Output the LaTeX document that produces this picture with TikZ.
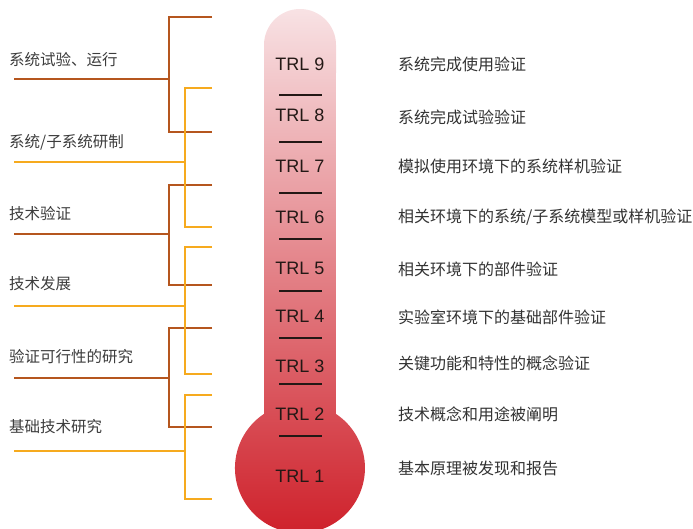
\documentclass[tikz,border=0pt]{standalone}
\usepackage{fontspec}
\setmainfont{Liberation Sans}
\newfontfamily\cjk{Noto Sans CJK SC}
\begin{document}
\begin{tikzpicture}[x=1pt,y=1pt,
  brownline/.style={draw={rgb,255:red,181;green,86;blue,30},line width=1.8pt},
  orangeline/.style={draw={rgb,255:red,246;green,170;blue,30},line width=1.8pt},
  lefttext/.style={anchor=west,inner sep=0pt,font=\cjk\fontsize{15.5}{16}\selectfont,text={rgb,255:red,60;green,60;blue,60}},
  righttext/.style={anchor=west,inner sep=0pt,font=\cjk\fontsize{16}{17}\selectfont,text={rgb,255:red,50;green,50;blue,50}},
  trltext/.style={inner sep=0pt,font=\fontsize{18}{20}\selectfont,text={rgb,255:red,35;green,24;blue,21}},
  dashline/.style={draw={rgb,255:red,35;green,24;blue,21},line width=2pt}]
\useasboundingbox (0,0) rectangle (693,529);
\definecolor{thtop}{RGB}{248,226,228}
\definecolor{thmid}{RGB}{229,128,134}
\definecolor{thbot}{RGB}{206,30,40}
% thermometer
\shade[top color=thtop, middle color=thmid, bottom color=thbot]
  (264,484) -- (264,115.1) arc[start angle=123.6, end angle=416.4, radius=65]
  -- (336,484) arc[start angle=0, end angle=180, radius=36] -- cycle;
% TRL labels
\node[trltext] (t9) at (300,465) {TRL 9};
\node[trltext] (t8) at (300,414) {TRL 8};
\node[trltext] (t7) at (300,363) {TRL 7};
\node[trltext] (t6) at (300,312) {TRL 6};
\node[trltext] (t5) at (300,261) {TRL 5};
\node[trltext] (t4) at (300,213) {TRL 4};
\node[trltext] (t3) at (300,163) {TRL 3};
\node[trltext] (t2) at (300,115) {TRL 2};
\node[trltext] (t1) at (300,53) {TRL 1};
\foreach \y in {434,387,336,290,238,191,145,93}
  \draw[dashline] (279,\y) -- (322,\y);
% right texts
\node[righttext] (r9) at (398,465) {系统完成使用验证};
\node[righttext] (r8) at (398,412) {系统完成试验验证};
\node[righttext] (r7) at (398,363) {模拟使用环境下的系统样机验证};
\node[righttext] (r6) at (398,312) {相关环境下的系统/子系统模型或样机验证};
\node[righttext] (r5) at (398,260) {相关环境下的部件验证};
\node[righttext] (r4) at (398,212) {实验室环境下的基础部件验证};
\node[righttext] (r3) at (398,166) {关键功能和特性的概念验证};
\node[righttext] (r2) at (398,115) {技术概念和用途被阐明};
\node[righttext] (r1) at (398,61) {基本原理被发现和报告};
% left texts
\node[lefttext] (l1) at (9,469) {系统试验、运行};
\node[lefttext] (l2) at (9,387) {系统/子系统研制};
\node[lefttext] (l3) at (9,315) {技术验证};
\node[lefttext] (l4) at (9,245) {技术发展};
\node[lefttext] (l5) at (9,172) {验证可行性的研究};
\node[lefttext] (l6) at (9,102) {基础技术研究};
% bracket coordinates
\coordinate (b1s) at (14,450); \coordinate (b1j) at (169,450);
\coordinate (b1t) at (212,512); \coordinate (b1b) at (212,397);
\coordinate (o1s) at (14,367); \coordinate (o1j) at (185,367);
\coordinate (o1t) at (212,441); \coordinate (o1b) at (212,302);
\coordinate (b2s) at (14,295); \coordinate (b2j) at (169,295);
\coordinate (b2t) at (212,344); \coordinate (b2b) at (212,244);
\coordinate (o2s) at (14,223); \coordinate (o2j) at (185,223);
\coordinate (o2t) at (212,282); \coordinate (o2b) at (212,155);
\coordinate (b3s) at (14,151); \coordinate (b3j) at (169,151);
\coordinate (b3t) at (212,201); \coordinate (b3b) at (212,102);
\coordinate (o3s) at (14,78); \coordinate (o3j) at (185,78);
\coordinate (o3t) at (212,134); \coordinate (o3b) at (212,30);
% brackets
\draw[brownline] (b1t) -| (b1j) |- (b1b); \draw[brownline] (b1s) -- (b1j);
\draw[brownline] (b2t) -| (b2j) |- (b2b); \draw[brownline] (b2s) -- (b2j);
\draw[brownline] (b3t) -| (b3j) |- (b3b); \draw[brownline] (b3s) -- (b3j);
\draw[orangeline] (o1t) -| (o1j) |- (o1b); \draw[orangeline] (o1s) -- (o1j);
\draw[orangeline] (o2t) -| (o2j) |- (o2b); \draw[orangeline] (o2s) -- (o2j);
\draw[orangeline] (o3t) -| (o3j) |- (o3b); \draw[orangeline] (o3s) -- (o3j);
\end{tikzpicture}
\end{document}
